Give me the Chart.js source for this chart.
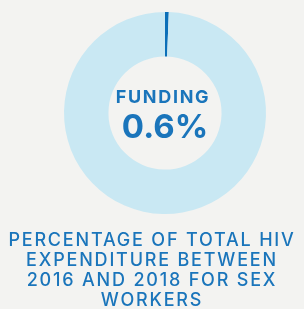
<!DOCTYPE html>
<html>
<head>
<meta charset="utf-8">
<script src="https://cdn.jsdelivr.net/npm/chart.js@4/dist/chart.umd.min.js"></script>
<style>
  html, body { margin: 0; padding: 0; background: #f3f3f1; }
  #wrap { width: 304px; height: 309px; position: relative; overflow: hidden; }
  #caption {
    position: absolute; left: 0; top: 230px; width: 304px;
    text-align: center; color: #1a75bb;
    font: 500 18px/20px Inter, sans-serif;
    letter-spacing: 1.8px;
  }
</style>
</head>
<body>
<div id="wrap">
  <canvas id="c" width="304" height="309"></canvas>
  <div id="caption"></div>
</div>
<script>
const labels = ["Sex workers", "Other"];
const shares = [0.6, 99.4];
const centerLabel = "FUNDING";
const centerValue = "0.6%";
const caption = ["PERCENTAGE OF TOTAL HIV", "EXPENDITURE BETWEEN", "2016 AND 2018 FOR SEX", "WORKERS"];

const blue = "#1a75bb";

document.getElementById("caption").innerHTML = caption.join("<br>");

const centerText = {
    id: "centerText",
    afterDraw(chart) {
        const { ctx } = chart;
        const arc = chart.getDatasetMeta(0).data[0];
        const x = arc.x, y = arc.y;
        ctx.save();
        ctx.fillStyle = blue;
        ctx.textAlign = "center";
        ctx.font = "bold 18px Inter";
        ctx.letterSpacing = "1.7px";
        ctx.fillText(centerLabel, x - 2, y - 10);
        ctx.letterSpacing = "0px";
        ctx.font = "bold 33px Inter";
        ctx.fillText(centerValue, x, y + 25);
        ctx.restore();
    },
};

new Chart(document.getElementById("c"), {
    type: "doughnut",
    data: {
        labels,
        datasets: [{
            data: shares,
            backgroundColor: ["#0b6fb8", "#c9e8f3"],
            borderWidth: 0,
        }],
    },
    options: {
        responsive: false,
        animation: false,
        cutout: "56%",
        layout: { padding: { left: 64, right: 38, top: 12, bottom: 95 } },
        plugins: {
            legend: { display: false },
            tooltip: { enabled: false },
        },
    },
    plugins: [centerText],
});
</script>
</body>
</html>
